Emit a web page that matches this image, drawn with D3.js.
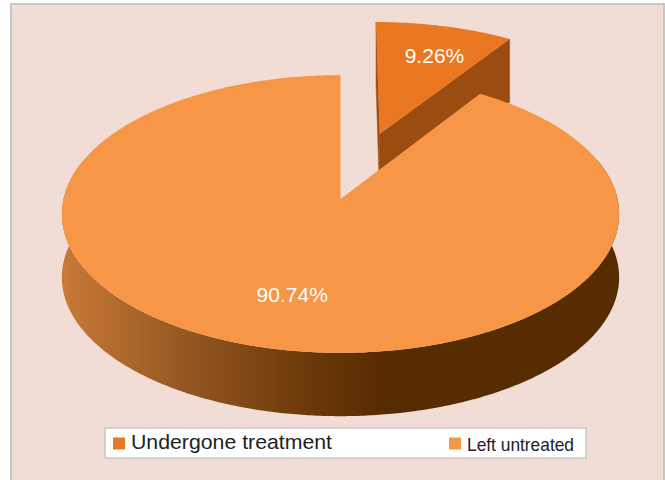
<!DOCTYPE html>
<html>
<head>
<meta charset="utf-8">
<script src="https://cdn.jsdelivr.net/npm/d3@7"></script>
<style>
  html, body { margin: 0; padding: 0; background: #ffffff; }
  svg { display: block; }
  text { font-family: "Liberation Sans", Arial, sans-serif; }
</style>
</head>
<body>
<script>
// ---- data ----
const categories = ["Undergone treatment", "Left untreated"];
const values = [9.26, 90.74];
const valueLabels = ["9.26%", "90.74%"];

// ---- styling / layout ----
const topColors = ["#ea7722", "#f79646"];
const radialColors = ["#9b4c10", "#9b4c10"];
const explodeBy = [0.52, 0];
const labelPolar = [[0.33, 0.72], [3.386, 0.67]];
const legendLayout = [
  { x: 113, size: 21, len: 201, base: 448.5 },
  { x: 449, size: 18.6, len: 107, base: 451 }
];

const W = 665, H = 480;
const cx = 340.5, cy = 199, k = 277;
const elev = 29.7 * Math.PI / 180, F = 8.04, depth = 0.263;

const svg = d3.select("body").append("svg").attr("width", W).attr("height", H);

// frame
svg.append("rect").attr("x", 11).attr("y", 4).attr("width", 653).attr("height", 500)
  .attr("fill", "#f1ddd5").attr("stroke", "#c6c6c6").attr("stroke-width", 2);

// gradient for the cylinder side
const defs = svg.append("defs");
const grad = defs.append("linearGradient").attr("id", "side")
  .attr("gradientUnits", "userSpaceOnUse").attr("x1", 60).attr("x2", 390).attr("y1", 0).attr("y2", 0);
[[0, "#c97a37"], [0.42, "#8f5420"], [0.73, "#6e3a0a"], [0.97, "#582c00"], [1, "#572c00"]]
  .forEach(([o, c]) => grad.append("stop").attr("offset", o).attr("stop-color", c));

const sx = d3.scaleLinear().domain([-1, 1]).range([cx - k, cx + k]);
const sy = d3.scaleLinear().domain([-1, 1]).range([cy - k, cy + k]);
function proj(X, Y, Z) {
  const w = Z * Math.cos(elev);
  const s = F / (F - w);
  // perspective on the disc, constant screen thickness for the extrusion
  return [sx(X * s), sy(Z * Math.sin(elev) * s - Y * Math.cos(elev))];
}

const arcs = d3.pie().sort(null).value(d => d)(values);
const line = d3.line();
const g = svg.append("g");

function arcPts(a0, a1, ox, oz, Y) {
  const n = Math.max(8, Math.ceil(Math.abs(a1 - a0) / 0.01));
  const pts = [];
  for (let i = 0; i <= n; i++) {
    const t = a0 + (a1 - a0) * i / n;
    pts.push(proj(ox + Math.sin(t), Y, oz - Math.cos(t)));
  }
  return pts;
}

arcs.forEach((a, i) => {
  const mid = (a.startAngle + a.endAngle) / 2;
  const off = explodeBy[i];
  const ox = off * Math.sin(mid), oz = -off * Math.cos(mid);
  const center = proj(ox, 0, oz), centerB = proj(ox, -depth, oz);

  // radial faces for exploded slices
  if (off > 0) {
    [a.startAngle, a.endAngle].forEach(t => {
      const o = proj(ox + Math.sin(t), 0, oz - Math.cos(t));
      const ob = proj(ox + Math.sin(t), -depth, oz - Math.cos(t));
      g.append("path").attr("d", line([center, o, ob, centerB]) + "Z")
        .attr("fill", radialColors[i]).attr("stroke", radialColors[i]).attr("stroke-width", 0.5);
    });
  }
  // outer side (near half)
  const s0 = Math.max(a.startAngle, Math.PI / 2 - 0.3), s1 = Math.min(a.endAngle, 1.5 * Math.PI + 0.3);
  if (s1 > s0) {
    const top = arcPts(s0, s1, ox, oz, 0);
    const bot = arcPts(s0, s1, ox, oz, -depth).reverse();
    g.append("path").attr("d", line(top.concat(bot)) + "Z").attr("fill", "url(#side)");
  }
  // top face
  const topPts = [center].concat(arcPts(a.startAngle, a.endAngle, ox, oz, 0));
  g.append("path").attr("d", line(topPts) + "Z").attr("fill", topColors[i]);
});

// labels
arcs.forEach((a, i) => {
  const mid = (a.startAngle + a.endAngle) / 2;
  const off = explodeBy[i];
  const ox = off * Math.sin(mid), oz = -off * Math.cos(mid);
  const [la, lr] = labelPolar[i];
  const p = proj(ox + lr * Math.sin(la), 0, oz - lr * Math.cos(la));
  svg.append("text").attr("x", p[0]).attr("y", p[1]).attr("dy", "0.35em")
    .attr("text-anchor", "middle").attr("fill", "#ffffff").attr("font-size", 21)
    .text(valueLabels[i]);
});

// legend
svg.append("rect").attr("x", 105).attr("y", 428).attr("width", 481).attr("height", 30)
  .attr("fill", "#ffffff").attr("stroke", "#c8c8c8").attr("stroke-width", 1.5);
categories.forEach((c, i) => {
  const L = legendLayout[i];
  svg.append("rect").attr("x", L.x).attr("y", 437.5).attr("width", 12).attr("height", 12)
    .attr("fill", topColors[i]);
  svg.append("text").attr("x", L.x + 18).attr("y", L.base).attr("font-size", L.size)
    .attr("fill", "#222222").attr("textLength", L.len).attr("lengthAdjust", "spacingAndGlyphs")
    .text(c);
});
</script>
</body>
</html>
